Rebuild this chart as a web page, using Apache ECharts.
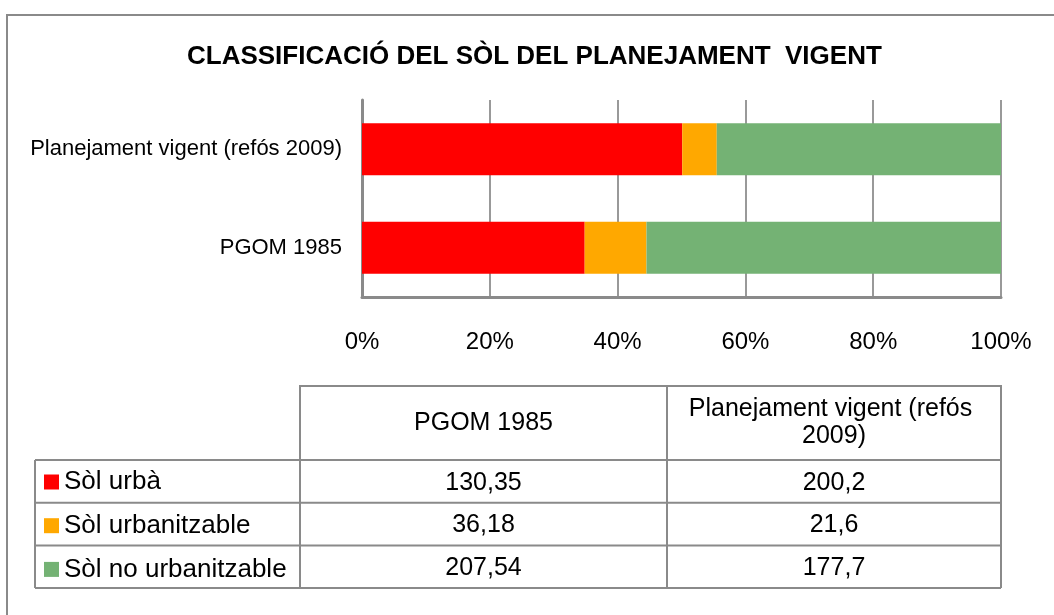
<!DOCTYPE html>
<html>
<head>
<meta charset="utf-8">
<style>
  html, body { margin: 0; padding: 0; background: #fff; }
  #chart { width: 1054px; height: 615px; }
</style>
<script src="https://cdn.jsdelivr.net/npm/echarts@6/dist/echarts.min.js"></script>
</head>
<body>
<div id="chart"></div>
<script>
// Land classification (ha) per planning document
const categories = ['PGOM 1985', 'Planejament vigent (refós 2009)'];
const seriesNames = ['Sòl urbà', 'Sòl urbanitzable', 'Sòl no urbanitzable'];
const solUrba = [130.35, 200.2];
const solUrbanitzable = [36.18, 21.6];
const solNoUrbanitzable = [207.54, 177.7];
const seriesColors = ['#FF0000', '#FFA800', '#74B274'];

const FONT = '"Liberation Sans", Arial, sans-serif';
const LINE = '#8a8a8a';

const rawSeries = [solUrba, solUrbanitzable, solNoUrbanitzable];
const totals = categories.map((_, i) => rawSeries.reduce((s, arr) => s + arr[i], 0));
const share = arr => arr.map((v, i) => v / totals[i] * 100);
const fmt = v => String(v).replace('.', ',');

// Data table under the chart
const tbl = { x0: 35, x1: 300, x2: 667, x3: 1001, yh: 386, y0: 460, rowH: 42.7 };
const graphics = [];
// outer frame
graphics.push({ type: 'rect', shape: { x: 7, y: 15, width: 1200, height: 800 },
  style: { fill: 'none', stroke: LINE, lineWidth: 2 }, silent: true });
// header cells
const colX = [tbl.x1, tbl.x2, tbl.x3];
const rowsBottom = tbl.y0 + tbl.rowH * seriesNames.length;
graphics.push({ type: 'polyline', shape: { points: [[tbl.x1, rowsBottom], [tbl.x1, tbl.yh], [tbl.x3, tbl.yh], [tbl.x3, rowsBottom]] },
  style: { stroke: LINE, lineWidth: 2, fill: 'none' } });
graphics.push({ type: 'line', shape: { x1: tbl.x2, y1: tbl.yh, x2: tbl.x2, y2: rowsBottom }, style: { stroke: LINE, lineWidth: 2 } });
graphics.push({ type: 'line', shape: { x1: tbl.x0, y1: tbl.y0, x2: tbl.x0, y2: rowsBottom }, style: { stroke: LINE, lineWidth: 2 } });
for (let r = 0; r <= seriesNames.length; r++) {
  const y = tbl.y0 + tbl.rowH * r;
  graphics.push({ type: 'line', shape: { x1: tbl.x0, y1: y, x2: tbl.x3, y2: y }, style: { stroke: LINE, lineWidth: 2 } });
}
categories.forEach((c, ci) => {
  const cx = (colX[ci] + colX[ci + 1]) / 2;
  graphics.push({ type: 'text', x: cx, y: (tbl.yh + tbl.y0) / 2,
    style: { text: c, width: 310, overflow: 'break', font: '25px ' + FONT, fill: '#000',
      align: 'center', verticalAlign: 'middle', lineHeight: 27 } });
  rawSeries.forEach((arr, ri) => {
    graphics.push({ type: 'text', x: cx, y: tbl.y0 + tbl.rowH * (ri + 0.5) + 1.5,
      style: { text: fmt(arr[ci]), font: '25px ' + FONT, fill: '#000', align: 'center', verticalAlign: 'middle' } });
  });
});

const chart = echarts.init(document.getElementById('chart'), null, { renderer: 'canvas' });
chart.setOption({
  backgroundColor: '#fff',
  animation: false,
  title: {
    text: 'CLASSIFICACIÓ DEL SÒL DEL PLANEJAMENT  VIGENT',
    left: 187, top: 44, padding: 0,
    textStyle: { fontFamily: FONT, fontWeight: 'bold', fontSize: 26, color: '#000' }
  },
  legend: {
    orient: 'vertical', left: 44, top: 469, itemGap: 17.7,
    itemWidth: 15, itemHeight: 15, icon: 'rect', selectedMode: false, padding: 0,
    textStyle: { fontFamily: FONT, fontSize: 26, color: '#000', lineHeight: 25 },
    data: seriesNames
  },
  grid: { left: 362, right: 53, top: 100, bottom: 318, containLabel: false },
  xAxis: {
    type: 'value', min: 0, max: 100, interval: 20,
    axisLine: { show: true, lineStyle: { color: LINE, width: 3 } },
    axisTick: { show: false },
    axisLabel: { formatter: '{value}%', margin: 33, fontFamily: FONT, fontSize: 24, color: '#000' },
    splitLine: { show: true, lineStyle: { color: '#999', width: 2 } }
  },
  yAxis: {
    type: 'category', data: categories,
    axisLine: { show: true, lineStyle: { color: LINE, width: 3 } },
    axisTick: { show: false },
    axisLabel: { margin: 20, fontFamily: FONT, fontSize: 22, color: '#000' }
  },
  series: rawSeries.map((arr, i) => ({
    name: seriesNames[i], type: 'bar', stack: 'total', barWidth: 52,
    itemStyle: { color: seriesColors[i] },
    data: share(arr)
  })),
  graphic: graphics
});
</script>
</body>
</html>
